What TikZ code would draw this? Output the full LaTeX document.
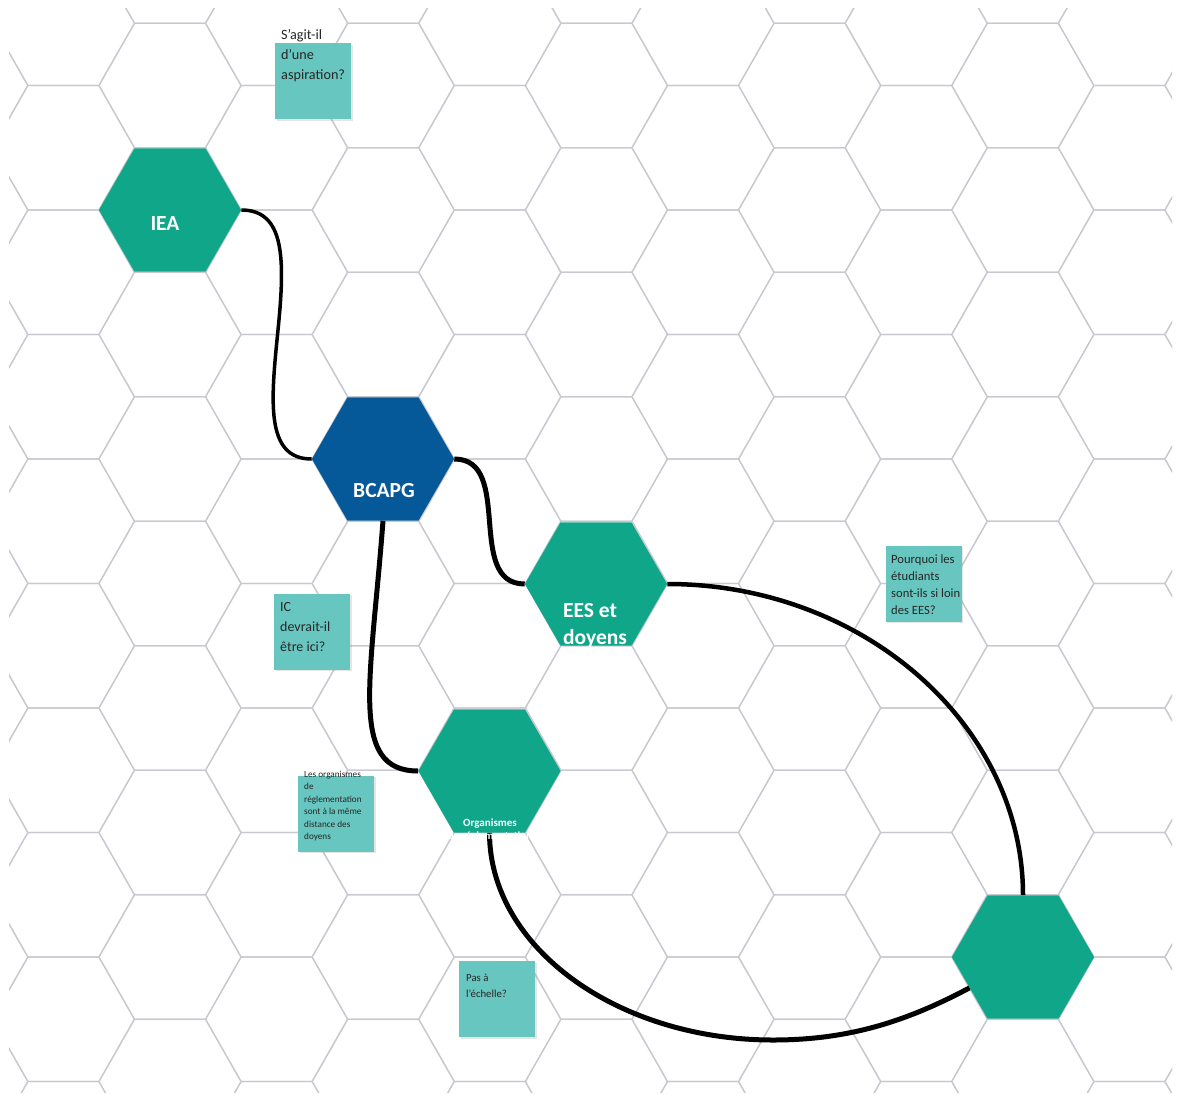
\documentclass[tikz,border=0pt]{standalone}
\usepackage{fontspec}
\setmainfont{Carlito}
\usepackage{tikz}
\usetikzlibrary{shapes.geometric,shadows}

\definecolor{hexgreen}{RGB}{16,166,137}
\definecolor{hexblue}{RGB}{5,89,152}
\definecolor{notecol}{RGB}{104,198,192}
\definecolor{gridgray}{RGB}{200,201,208}
\definecolor{notetext}{RGB}{38,38,38}

\begin{document}
\begin{tikzpicture}[x=1pt,y=1pt,
  hexa/.style={regular polygon, regular polygon sides=6, minimum size=142.2pt, inner sep=0pt, fill=hexgreen, draw=none},
  hexlab/.style={text=white, font=\bfseries\fontsize{21.5}{27}\selectfont, align=left, inner sep=0pt},
  orglab/.style={text=white, font=\bfseries\fontsize{11}{13}\selectfont, align=center, inner sep=0pt},
  note/.style={fill=notecol, minimum width=76pt, minimum height=76pt, inner sep=0pt, drop shadow={shadow xshift=1.5pt, shadow yshift=-1.5pt, opacity=0.2}},
  notetxt/.style={anchor=north west, inner sep=0pt, align=left, text=notetext},
  link/.style={line width=5pt, black},
  gridline/.style={gridgray, line width=1.2pt}]

\useasboundingbox (0,0) rectangle (1181,-1095);
\fill[white] (0,0) rectangle (1181,-1095);

% honeycomb
\begin{scope}
\clip (9,-8) rectangle (1172,-1092);
\foreach \k in {-2,...,10}
  \foreach \m in {-2,...,8} {
    \pgfmathsetmacro{\cx}{170+106.6*\k}
    \pgfmathsetmacro{\cy}{-210-124.5*\m-62.25*mod(\k,2)}
    \draw[gridline] (\cx-71.1,\cy) -- ++(35.55,62.25) -- ++(71.1,0) -- ++(35.55,-62.25)
      -- ++(-35.55,-62.25) -- ++(-71.1,0) -- cycle;
  }
\end{scope}

\node[hexa]              (IEA)   at (170,-210)   {};
\node[hexa, fill=hexblue] (BCAPG) at (383,-459)   {};
\node[hexa]              (EES)   at (596,-584)   {};
\node[hexa]              (ORG)   at (489.5,-771) {};
\node[hexa]              (BR)    at (1023,-957)  {};

\draw[link, line width=3.5pt] (IEA.east) .. controls +(44,0) and +(7,70) .. (278,-330)
  .. controls +(-7,-70) and +(-47,0) .. (BCAPG.west);
\draw[link] (BCAPG.east) .. controls +(60,0) and +(-60,0) .. (EES.west);
\draw[link] (BCAPG.south) .. controls +(-12,-160) and +(-70,0) .. (ORG.west);
\draw[link] (ORG.south) .. controls +(0,-115) and +(-155,0) .. (773,-1040)
  .. controls +(75,0) and +(-64,-34) .. (BR.210);
\draw[link, line width=4.5pt] (EES.east) .. controls +(196,0) and +(0,170) .. (BR.north);

\node[hexlab] (IEAt)   at (165,-224)   {IEA};
\node[hexlab] (BCAPGt) at (384,-491)   {BCAPG};
\node[hexlab] (EESt)   at (595,-625.5) {EES et\\doyens};
\node[orglab] (ORGt)   at (490,-830)   {Organismes\\de réglementation};

\node[note] (N1) at (313,-81)     {};
\node[note] (N2) at (312,-631.5)  {};
\node[note] (N3) at (336,-813.5)  {};
\node[note] (N4) at (923.5,-583.5) {};
\node[note] (N5) at (497,-999)    {};

\node[notetxt, font=\fontsize{14.2}{20}\selectfont]  (N1t) at (281,-29.5) {S’agit-il\\d’une\\aspiration?};
\node[notetxt, font=\fontsize{14}{20}\selectfont]    (N2t) at (280,-602.5) {IC\\devrait-il\\être ici?};
\node[notetxt, font=\fontsize{9.2}{12.4}\selectfont] (N3t) at (304,-771) {Les organismes\\de\\réglementation\\sont à la même\\distance des\\doyens};
\node[notetxt, font=\fontsize{12.6}{17}\selectfont]  (N4t) at (891,-555) {Pourquoi les\\étudiants\\sont-ils si loin\\des EES?};
\node[notetxt, font=\fontsize{10.8}{16}\selectfont]  (N5t) at (466,-974) {Pas à\\l’échelle?};
\end{tikzpicture}
\end{document}
